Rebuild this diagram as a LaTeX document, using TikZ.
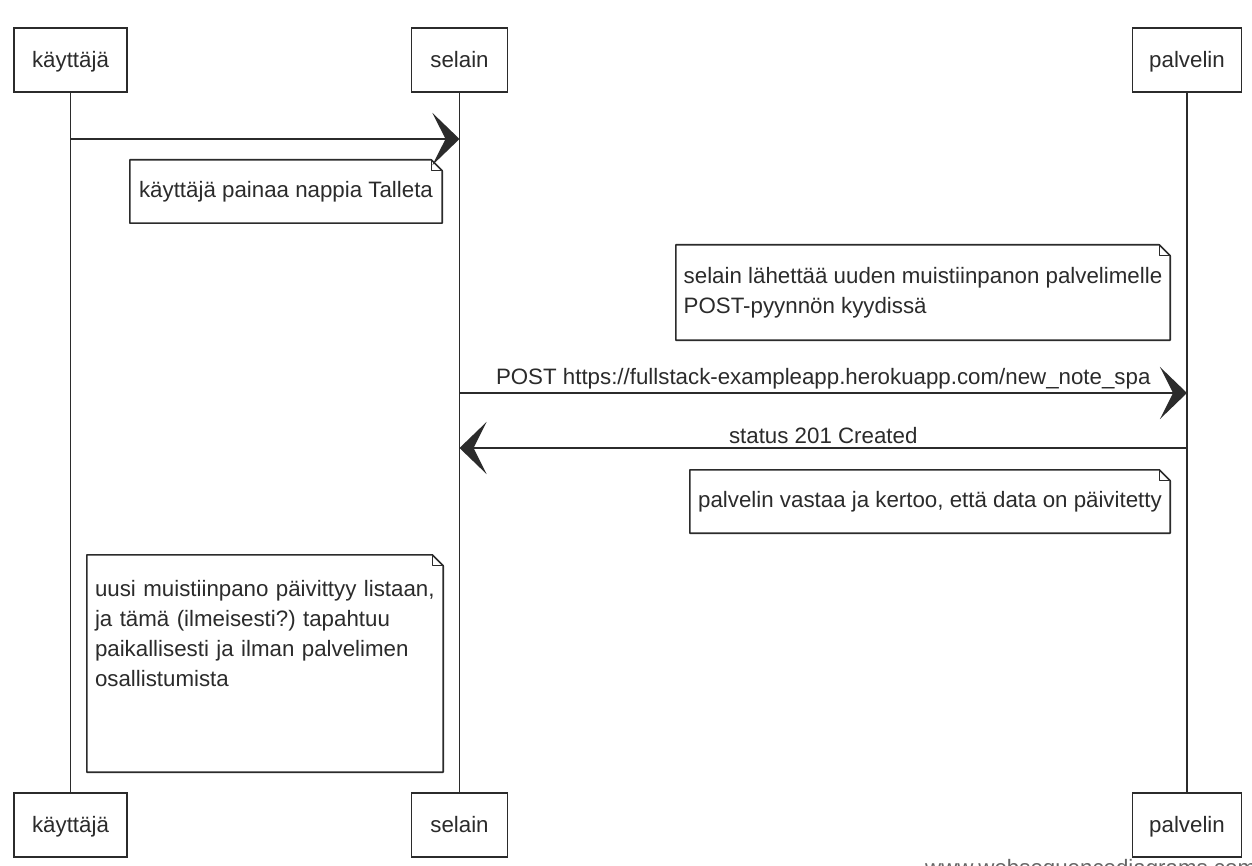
\documentclass[tikz,border=0pt]{standalone}
\usepackage{fontspec}
\setmainfont{Liberation Sans}
\usetikzlibrary{arrows.meta,calc}
\definecolor{ink}{HTML}{2B2B2B}
\frenchspacing
\newcommand\dognote[1]{%
  \draw[noteline] (#1.north west) -- ([xshift=-11pt]#1.north east) -- ([yshift=-11pt]#1.north east) -- (#1.south east) -- (#1.south west) -- cycle;
  \draw[noteline, line width=1pt] ([xshift=-11pt]#1.north east) -- ([xshift=-11pt,yshift=-11pt]#1.north east) -- ([yshift=-11pt]#1.north east);}
\begin{document}
\begin{tikzpicture}[x=1pt,y=-1pt,
  every node/.style={font=\fontsize{22.3}{30}\selectfont\frenchspacing, text=ink},
  actor/.style={draw=ink, line width=1.8pt, minimum height=64pt, inner sep=0pt, text height=18pt, text depth=3pt},
  lifeline/.style={draw=ink, line width=1.2pt},
  msg/.style={draw=ink, line width=1.9pt, -{Stealth[length=27pt,width=52pt,inset=13pt]}},
  notetext/.style={inner sep=0pt, align=left},
  noteline/.style={draw=ink, line width=1.6pt, line join=round},
  msglabel/.style={above, inner sep=3pt}
]
\useasboundingbox (0,0) rectangle (1252,866);
\clip (0,0) rectangle (1252,866);
\fill[white] (0,0) rectangle (1252,866);

% actors
\node[actor, minimum width=113pt] (u1) at (70.5,60) {käyttäjä};
\node[actor, minimum width=96pt]  (s1) at (459.5,60) {selain};
\node[actor, minimum width=109pt] (p1) at (1187,60) {palvelin};
\node[actor, minimum width=113pt] (u2) at (70.5,825) {käyttäjä};
\node[actor, minimum width=96pt]  (s2) at (459.5,825) {selain};
\node[actor, minimum width=109pt] (p2) at (1187,825) {palvelin};

% lifelines
\draw[lifeline] (u1) -- (u2);
\draw[lifeline] (s1) -- (s2);
\draw[lifeline] (p1) -- (p2);

% message rows
\coordinate (m1) at (0,139);
\coordinate (m2) at (0,393);
\coordinate (m3) at (0,448);

\draw[msg] (u1 |- m1) -- (s1 |- m1);
\draw[msg] (s1 |- m2) -- node[msglabel] (l2) {POST https://fullstack-exampleapp.herokuapp.com/new\_note\_spa} (p1 |- m2);
\draw[msg] (p1 |- m3) -- node[msglabel] (l3) {status 201 Created} (s1 |- m3);

% notes
\node[notetext, minimum width=312pt, minimum height=63pt] (n1) at (286,191.5) {käyttäjä painaa nappia Talleta};
\dognote{n1}
\node[notetext, minimum width=494pt, minimum height=95pt] (n2) at (923,292.5) {selain lähettää uuden muistiinpanon palvelimelle\\POST-pyynnön kyydissä};
\dognote{n2}
\node[notetext, minimum width=480pt, minimum height=63pt] (n3) at (930,501.5) {palvelin vastaa ja kertoo, että data on päivitetty};
\dognote{n3}
\node[notetext, text width=340pt, minimum height=217pt, inner xsep=8pt] (n4) at (265,663.5) {uusi muistiinpano päivittyy listaan,\\ja tämä (ilmeisesti?) tapahtuu\\paikallisesti ja ilman palvelimen\\osallistumista\\\mbox{}\\\mbox{}};
\dognote{n4}

% watermark (cut off at the lower edge, as in the reference)
\node[anchor=base west, inner sep=0pt, text=black!60] (wm) at (925,875) {www.websequencediagrams.com};
\end{tikzpicture}
\end{document}
